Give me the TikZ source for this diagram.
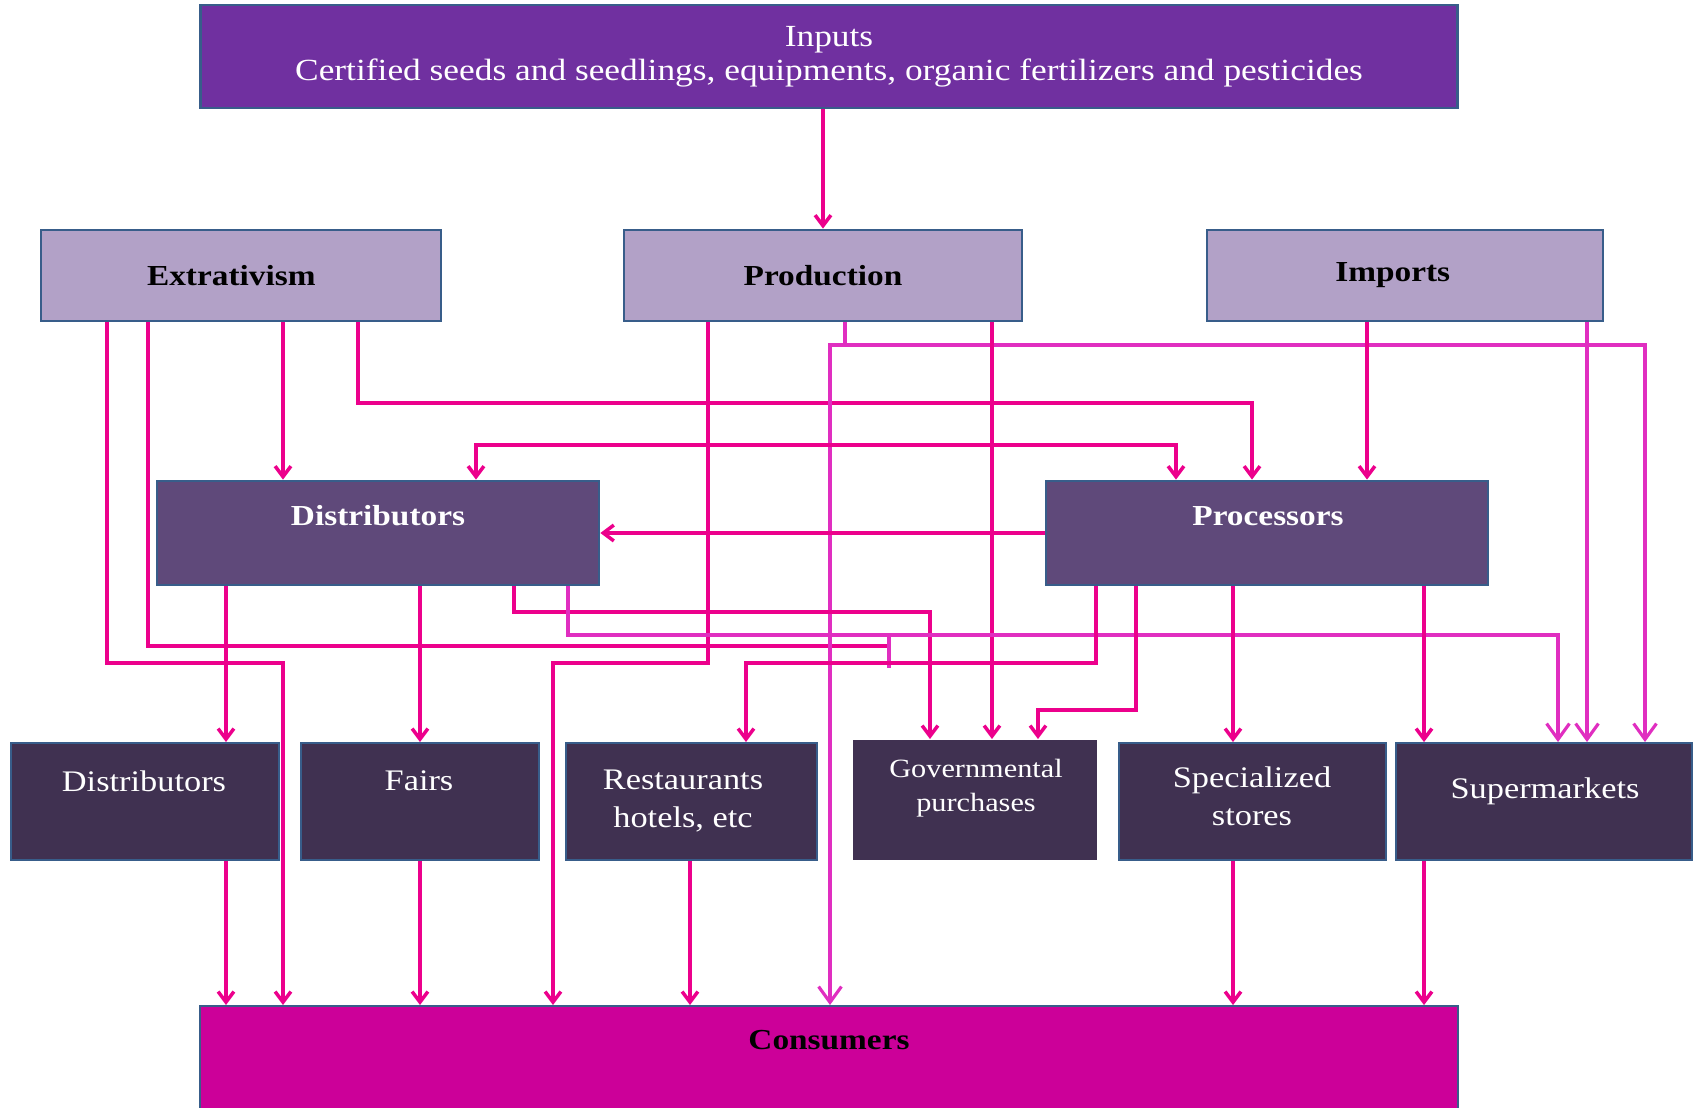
\documentclass[tikz,border=0pt]{standalone}
\usepackage{fontspec}
\setmainfont{Liberation Serif}[FakeStretch=1.15]
\usetikzlibrary{arrows.meta}

\definecolor{inputfill}{HTML}{7030A0}
\definecolor{sourcefill}{HTML}{B2A1C7}
\definecolor{agentfill}{HTML}{5F497A}
\definecolor{outletfill}{HTML}{403151}
\definecolor{consfill}{HTML}{CC0099}
\definecolor{boxedge}{HTML}{385D8A}
\definecolor{pinkline}{HTML}{EC008C}
\definecolor{magline}{HTML}{E02EC0}

\tikzset{
  box/.style={rectangle, draw=boxedge, line width=1.6pt, inner sep=0pt},
  srcbox/.style={box, fill=sourcefill, minimum height=1.82cm,
    font=\bfseries\fontsize{16.5}{19}\selectfont},
  agentbox/.style={box, fill=agentfill, minimum width=8.84cm, minimum height=2.08cm},
  outletbox/.style={box, line width=1.1pt, fill=outletfill, minimum height=2.34cm},
  boldtxt/.style={font=\bfseries\fontsize{16.5}{19}\selectfont},
  outtxt/.style={text=white, align=center, font=\fontsize{17}{21.6}\selectfont},
  flow/.style={draw=pinkline, line width=2pt,
    >={Straight Barb[length=6pt,width=9pt]}, ->},
  flowlite/.style={draw=magline, line width=1.8pt,
    >={Straight Barb[length=9pt,width=13pt]}, ->}
}

\begin{document}
\begin{tikzpicture}[x=0.02cm, y=-0.02cm]
	\useasboundingbox (0,0) rectangle (1696,1108);
	% boxes sit at their centres, in pixels of the page
	\node[box, fill=inputfill, minimum width=25.16cm, minimum height=2.06cm,
	  text=white, align=center, font=\fontsize{17.5}{19.5}\selectfont] (inputs) at (829,56.5)
	  {Inputs\\Certified seeds and seedlings, equipments, organic fertilizers and pesticides};
	\node[srcbox, minimum width=8cm] (ext) at (241,275.5) {Extrativism\kern11pt};
	\node[srcbox, minimum width=7.96cm] (prod) at (823,275.5) {Production};
	\node[srcbox, minimum width=7.92cm] (imp) at (1405,275.5) {Imports\kern14pt};

	\node[agentbox] (dist) at (378,533) {};
	\node[agentbox] (proc) at (1267,533) {};
	\node[boldtxt, text=white] (distlbl) at (378,516) {Distributors};
	\node[boldtxt, text=white] (proclbl) at (1268,516) {Processors};

	% outlets on the bottom row
	\node[outletbox, minimum width=5.36cm] (bdist) at (145,801.5) {};
	\node[outletbox, minimum width=4.76cm] (fairs) at (420,801.5) {};
	\node[outletbox, minimum width=5.02cm] (rest) at (691.5,801.5) {};
	\node[outletbox, draw=none, minimum width=4.88cm, minimum height=2.4cm] (gov) at (975,800) {};
	\node[outletbox, minimum width=5.34cm] (spec) at (1252.5,801.5) {};
	\node[outletbox, minimum width=5.92cm] (super) at (1544,801.5) {};
	\node[outtxt] (bdistlbl) at (144,781) {Distributors};
	\node[outtxt] (fairslbl) at (419,781) {Fairs};
	\node[outtxt] (restlbl) at (683,801) {Restaurants\\hotels, etc};
	\node[outtxt, font=\fontsize{15}{19}\selectfont] (govlbl) at (976,788) {Governmental\\purchases};
	\node[outtxt] (speclbl) at (1252,796) {Specialized\\stores};
	\node[outtxt] (superlbl) at (1545,791) {Supermarkets};

	\node[box, line width=1.1pt, fill=consfill, minimum width=25.16cm, minimum height=2.4cm] (cons) at (829,1066) {};
	\node[boldtxt] (conslbl) at (829,1040) {Consumers};

	% inputs feed production
	\draw[flow] (inputs.south -| prod.north) -- (prod.north);

	% extrativism
	\draw[flow] (107,0 |- ext.south) |- (283,663) -- (283,0 |- cons.north);
	\draw[flow, -] (148,0 |- ext.south) |- (889,646);
	\draw[flow] (283,0 |- ext.south) -- (283,0 |- dist.north);
	\draw[flow] (358,0 |- ext.south) |- (1252,403) -- (1252,0 |- proc.north);

	% production
	\coordinate (split) at (845,345);
	\draw[flow] (708,0 |- prod.south) |- (553,663) -- (553,0 |- cons.north);
	\draw[flowlite] (845,0 |- prod.south) -- (split) -| (1645,0 |- super.north);
	\draw[flowlite] (split) -| (830,0 |- cons.north);
	\draw[flow] (992,0 |- prod.south) -- (992,0 |- gov.north);

	% imports
	\draw[flow] (1367,0 |- imp.south) -- (1367,0 |- proc.north);
	\draw[flowlite] (1587,0 |- imp.south) -- (1587,0 |- super.north);

	% distributors <-> processors
	\draw[flow, <->] (476,0 |- dist.north) |- (1176,445) -- (1176,0 |- proc.north);
	\draw[flow] (proc.west) -- (dist.east);

	% distributors
	\draw[flow] (226,0 |- dist.south) -- (226,0 |- bdist.north);
	\draw[flow] (420,0 |- dist.south) -- (420,0 |- fairs.north);
	\draw[flow] (514,0 |- dist.south) |- (930,612) -- (930,0 |- gov.north);
	\draw[flowlite] (568,0 |- dist.south) |- (1558,635) -- (1558,0 |- super.north);
	\draw[flowlite, -] (889,635) -- (889,668);

	% processors
	\draw[flow] (1096,0 |- proc.south) |- (746,663) -- (746,0 |- rest.north);
	\draw[flow] (1136,0 |- proc.south) |- (1038,710) -- (1038,0 |- gov.north);
	\draw[flow] (1233,0 |- proc.south) -- (1233,0 |- spec.north);
	\draw[flow] (1424,0 |- proc.south) -- (1424,0 |- super.north);

	% outlets reach the consumers
	\draw[flow] (226,0 |- bdist.south) -- (226,0 |- cons.north);
	\draw[flow] (420,0 |- fairs.south) -- (420,0 |- cons.north);
	\draw[flow] (690,0 |- rest.south) -- (690,0 |- cons.north);
	\draw[flow] (1233,0 |- spec.south) -- (1233,0 |- cons.north);
	\draw[flow] (1424,0 |- super.south) -- (1424,0 |- cons.north);
\end{tikzpicture}
\end{document}
